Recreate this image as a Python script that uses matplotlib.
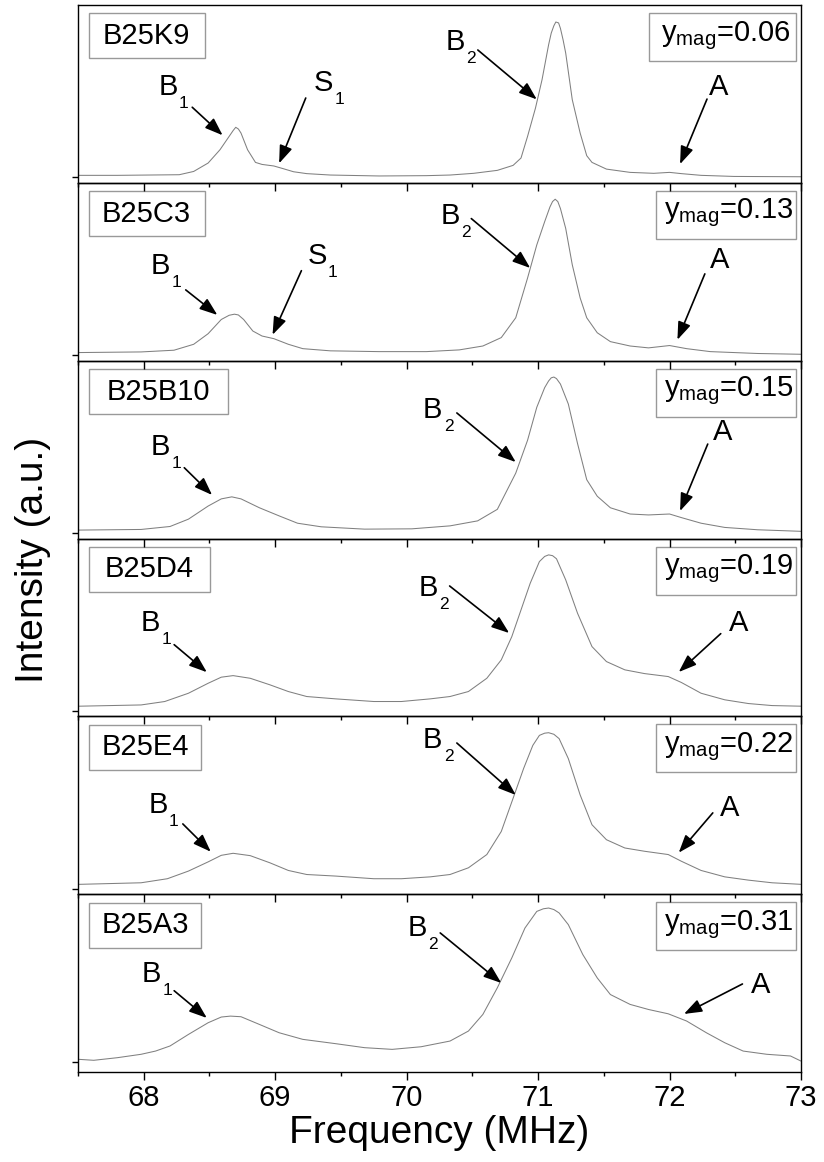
import matplotlib.pyplot as plt
import matplotlib.patches as patches
from matplotlib.ticker import MultipleLocator

plt.rcParams['font.family'] = ['Liberation Sans', 'DejaVu Sans']
plt.rcParams['mathtext.fontset'] = 'custom'
plt.rcParams['mathtext.rm'] = 'Liberation Sans'

samples = ['B25K9', 'B25C3', 'B25B10', 'B25D4', 'B25E4', 'B25A3']
y_mag = ['0.06', '0.13', '0.15', '0.19', '0.22', '0.31']

# NMR spectra, intensity normalised to the B2 line
freq_k9 = [67.51, 67.80, 68.27, 68.38, 68.49, 68.58, 68.65, 68.68, 68.70, 68.72, 68.74,
           68.79, 68.85, 68.90, 68.99, 69.06, 69.14, 69.24, 69.42, 69.79, 70.15, 70.33,
           70.51, 70.69, 70.81, 70.87, 70.92, 70.98, 71.03, 71.08, 71.10, 71.12, 71.135,
           71.156, 71.17, 71.19, 71.21, 71.26, 71.32, 71.37, 71.41, 71.52, 71.70, 71.88,
           72.00, 72.09, 72.24, 72.49, 73.00]
int_k9 = [0.013, 0.013, 0.017, 0.038, 0.092, 0.177, 0.263, 0.300, 0.321, 0.310, 0.284,
          0.177, 0.096, 0.083, 0.073, 0.056, 0.036, 0.024, 0.015, 0.009, 0.011, 0.015,
          0.026, 0.045, 0.077, 0.124, 0.263, 0.444, 0.626, 0.850, 0.925, 0.972, 0.996,
          0.990, 0.955, 0.882, 0.797, 0.498, 0.284, 0.139, 0.096, 0.053, 0.032, 0.026,
          0.032, 0.024, 0.013, 0.006, 0.004]

freq_c3 = [67.51, 67.98, 68.23, 68.38, 68.49, 68.59, 68.65, 68.69, 68.72, 68.76, 68.83,
           68.90, 68.99, 69.10, 69.21, 69.42, 69.79, 70.15, 70.40, 70.58, 70.72, 70.83,
           70.92, 70.99, 71.05, 71.09, 71.11, 71.13, 71.15, 71.17, 71.21, 71.26, 71.32,
           71.37, 71.45, 71.55, 71.70, 71.84, 72.00, 72.13, 72.31, 72.67, 73.00]
int_c3 = [0.017, 0.021, 0.032, 0.070, 0.138, 0.229, 0.256, 0.263, 0.258, 0.229, 0.155,
          0.123, 0.106, 0.070, 0.042, 0.028, 0.023, 0.023, 0.034, 0.059, 0.113, 0.240,
          0.495, 0.707, 0.856, 0.950, 0.985, 1.000, 0.985, 0.940, 0.813, 0.580, 0.367,
          0.240, 0.144, 0.087, 0.059, 0.047, 0.062, 0.042, 0.023, 0.011, 0.006]

freq_b10 = [67.51, 67.98, 68.20, 68.34, 68.49, 68.59, 68.67, 68.74, 68.88, 69.03, 69.17,
            69.35, 69.68, 70.04, 70.33, 70.54, 70.69, 70.83, 70.92, 70.99, 71.05, 71.08,
            71.10, 71.12, 71.14, 71.17, 71.23, 71.30, 71.37, 71.45, 71.55, 71.70, 71.84,
            72.00, 72.09, 72.24, 72.42, 72.67, 73.00]
int_b10 = [0.019, 0.023, 0.042, 0.089, 0.173, 0.219, 0.232, 0.219, 0.162, 0.110, 0.063,
           0.040, 0.025, 0.027, 0.046, 0.078, 0.152, 0.384, 0.595, 0.806, 0.932, 0.975,
           0.995, 1.000, 0.990, 0.955, 0.827, 0.574, 0.342, 0.236, 0.162, 0.122, 0.116,
           0.122, 0.099, 0.063, 0.036, 0.021, 0.011]

freq_d4 = [67.51, 67.98, 68.16, 68.34, 68.49, 68.59, 68.68, 68.81, 68.96, 69.10, 69.24,
           69.46, 69.75, 69.96, 70.18, 70.33, 70.47, 70.61, 70.72, 70.80, 70.87, 70.94,
           71.01, 71.05, 71.08, 71.11, 71.14, 71.21, 71.30, 71.41, 71.52, 71.66, 71.81,
           71.99, 72.09, 72.24, 72.42, 72.60, 72.78, 73.00]
int_d4 = [0.030, 0.038, 0.060, 0.113, 0.177, 0.216, 0.226, 0.209, 0.167, 0.124, 0.092,
          0.077, 0.060, 0.060, 0.077, 0.092, 0.124, 0.209, 0.327, 0.476, 0.647, 0.818,
          0.957, 0.990, 1.000, 0.995, 0.975, 0.840, 0.626, 0.412, 0.316, 0.263, 0.239,
          0.220, 0.182, 0.113, 0.071, 0.047, 0.034, 0.030]

freq_e4 = [67.51, 67.98, 68.18, 68.34, 68.49, 68.59, 68.68, 68.81, 68.96, 69.10, 69.24,
           69.46, 69.75, 69.96, 70.18, 70.33, 70.47, 70.61, 70.72, 70.81, 70.89, 70.96,
           71.01, 71.05, 71.08, 71.12, 71.16, 71.23, 71.32, 71.41, 71.52, 71.66, 71.81,
           71.99, 72.09, 72.24, 72.42, 72.60, 72.78, 73.00]
int_e4 = [0.028, 0.038, 0.064, 0.113, 0.172, 0.214, 0.227, 0.212, 0.166, 0.117, 0.091,
          0.081, 0.064, 0.064, 0.076, 0.091, 0.134, 0.219, 0.367, 0.580, 0.771, 0.919,
          0.983, 0.997, 1.000, 0.990, 0.962, 0.834, 0.601, 0.410, 0.314, 0.261, 0.240,
          0.219, 0.176, 0.117, 0.076, 0.055, 0.038, 0.028]

freq_a3 = [67.51, 67.62, 67.80, 67.98, 68.09, 68.20, 68.34, 68.49, 68.59, 68.66, 68.74,
           68.88, 69.03, 69.21, 69.46, 69.68, 69.89, 70.11, 70.33, 70.47, 70.58, 70.69,
           70.80, 70.90, 70.99, 71.04, 71.08, 71.12, 71.16, 71.23, 71.34, 71.45, 71.55,
           71.70, 71.84, 71.99, 72.13, 72.28, 72.42, 72.56, 72.74, 72.92, 73.00]
int_a3 = [0.017, 0.011, 0.028, 0.050, 0.071, 0.104, 0.179, 0.255, 0.292, 0.298, 0.294,
          0.244, 0.190, 0.147, 0.119, 0.093, 0.082, 0.099, 0.136, 0.201, 0.309, 0.482,
          0.676, 0.870, 0.978, 0.995, 1.000, 0.990, 0.968, 0.892, 0.698, 0.546, 0.438,
          0.374, 0.341, 0.313, 0.266, 0.190, 0.125, 0.071, 0.050, 0.039, 0.006]

spectra = [(freq_k9, int_k9), (freq_c3, int_c3), (freq_b10, int_b10),
           (freq_d4, int_d4), (freq_e4, int_e4), (freq_a3, int_a3)]

y_limits = [(-0.035, 1.105)] * 5 + [(-0.065, 1.09)]

# peak labels: letter, subscript, text pos (axes), arrow tail (axes), arrow tip (data)
peak_marks = [
    [('B', '1', (0.111, 0.539), (0.158, 0.425), (68.60, 0.270)),
     ('S', '1', (0.326, 0.561), (0.315, 0.477), (69.03, 0.090)),
     ('B', '2', (0.508, 0.792), (0.553, 0.747), (70.99, 0.500)),
     ('A', '', (0.873, 0.539), (0.870, 0.471), (72.08, 0.085))],
    [('B', '1', (0.101, 0.533), (0.149, 0.398), (68.56, 0.258)),
     ('S', '1', (0.317, 0.589), (0.309, 0.506), (68.98, 0.131)),
     ('B', '2', (0.501, 0.814), (0.544, 0.799), (70.94, 0.559)),
     ('A', '', (0.874, 0.566), (0.867, 0.488), (72.06, 0.099))],
    [('B', '1', (0.100, 0.515), (0.147, 0.398), (68.52, 0.244)),
     ('B', '2', (0.477, 0.723), (0.524, 0.706), (70.83, 0.455)),
     ('A', '', (0.878, 0.599), (0.871, 0.531), (72.08, 0.141))],
    [('B', '1', (0.087, 0.525), (0.133, 0.403), (68.48, 0.248)),
     ('B', '2', (0.471, 0.722), (0.514, 0.733), (70.78, 0.499)),
     ('A', '', (0.900, 0.525), (0.889, 0.465), (72.07, 0.249))],
    [('B', '1', (0.097, 0.502), (0.145, 0.395), (68.51, 0.237)),
     ('B', '2', (0.477, 0.868), (0.524, 0.850), (70.83, 0.601)),
     ('A', '', (0.888, 0.486), (0.878, 0.457), (72.07, 0.231))],
    [('B', '1', (0.0885, 0.551), (0.133, 0.457), (68.48, 0.286)),
     ('B', '2', (0.456, 0.810), (0.501, 0.782), (70.72, 0.513)),
     ('A', '', (0.931, 0.491), (0.919, 0.495), (72.11, 0.312))],
]

name_box_width = [0.160, 0.160, 0.193, 0.167, 0.155, 0.155]
mag_box_left = [0.790, 0.800, 0.800, 0.800, 0.800, 0.800]

fig = plt.figure(figsize=(8.24, 11.62), dpi=100)
gs = fig.add_gridspec(6, 1, left=78 / 824, right=801 / 824,
                      top=1 - 5 / 1162, bottom=1 - 1072 / 1162, hspace=0)

for i in range(6):
    ax = fig.add_subplot(gs[i])
    ax.set_zorder(10 - i)
    ax.patch.set_visible(False)
    f, v = spectra[i]
    ax.plot(f, v, color='#808080', lw=0.75)
    ax.set_xlim(67.5, 73)
    ax.set_ylim(*y_limits[i])

    ax.set_xticks(range(68, 74))
    ax.xaxis.set_minor_locator(MultipleLocator(0.5))
    ax.set_yticks([0])
    ax.set_yticklabels([])
    ax.tick_params(axis='x', which='major', direction='out', length=5.5, width=1.0,
                   labelsize=21, pad=3)
    ax.tick_params(axis='x', which='minor', direction='out', length=3, width=1.0)
    ax.tick_params(axis='y', direction='out', length=4, width=1.0)
    if i < 5:
        ax.tick_params(axis='x', which='both', labelbottom=False)
    for sp in ax.spines.values():
        sp.set_linewidth(1.0)

    # sample name box
    ax.add_patch(patches.Rectangle((0.015, 0.70), name_box_width[i], 0.253,
                                   transform=ax.transAxes, fill=False,
                                   ec='#999999', lw=1.0))
    ax.text(0.015 + name_box_width[i] / 2, 0.826, samples[i], transform=ax.transAxes,
            ha='center', va='center', fontsize=21)

    # magnetic fraction box
    x0 = mag_box_left[i]
    ax.add_patch(patches.Rectangle((x0, 0.685), 0.993 - x0, 0.27,
                                   transform=ax.transAxes, fill=False,
                                   ec='#999999', lw=1.0))
    ax.text((x0 + 0.993) / 2 + 0.004, 0.83, r'$\mathregular{y_{mag}}$=' + y_mag[i],
            transform=ax.transAxes, ha='center', va='center', fontsize=21)

    for letter, sub, txt, tail, tip in peak_marks[i]:
        ax.text(txt[0], txt[1], letter, transform=ax.transAxes,
                ha='left', va='center', fontsize=21)
        if sub:
            ax.annotate(sub, xy=txt, xycoords='axes fraction', xytext=(15, -12),
                        textcoords='offset points', ha='left', va='center', fontsize=12.5)
        ax.annotate('', xy=tip, xycoords='data', xytext=tail, textcoords='axes fraction',
                    arrowprops=dict(arrowstyle='-|>,head_length=0.6,head_width=0.22',
                                    color='black', lw=1.2, mutation_scale=18,
                                    shrinkA=0, shrinkB=0))

    if i == 5:
        ax.set_xlabel('Frequency (MHz)', fontsize=28, labelpad=2)

fig.text(33 / 824, 1 - 560 / 1162, 'Intensity (a.u.)', rotation=90,
         ha='center', va='center', fontsize=28)

fig.savefig('out.png', dpi=100)
